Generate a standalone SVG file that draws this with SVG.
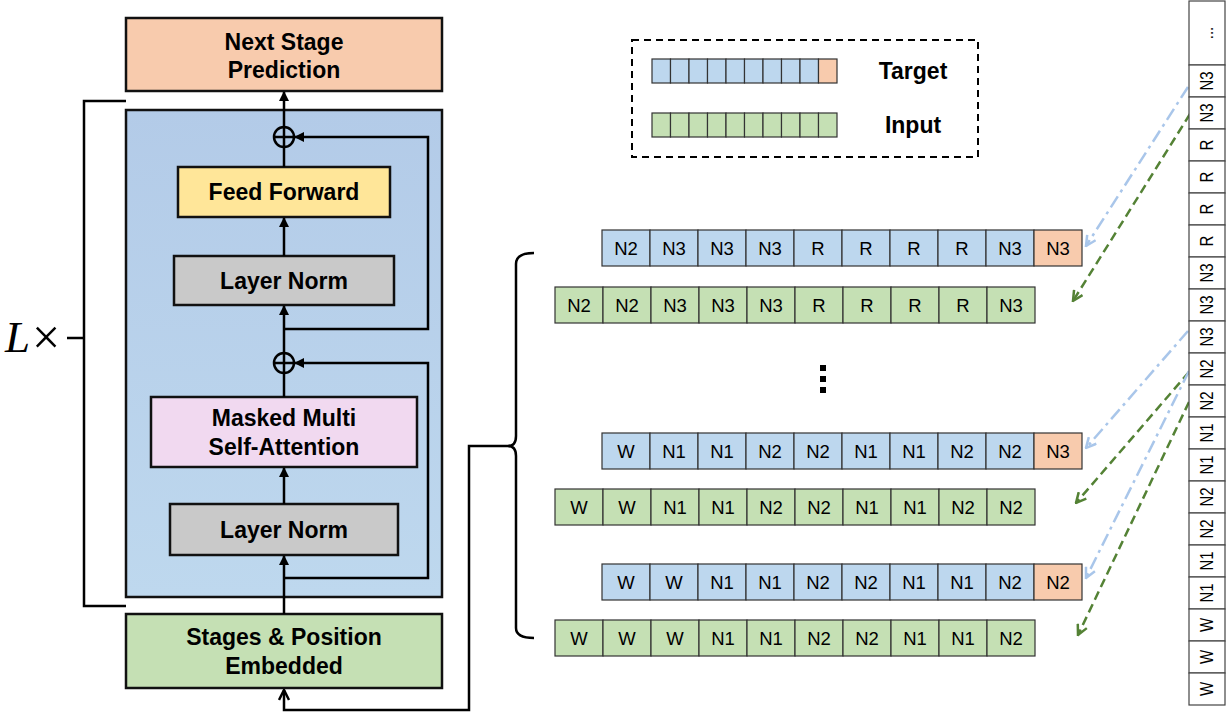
<svg xmlns="http://www.w3.org/2000/svg" width="1229" height="713" viewBox="0 0 1229 713">
<style>
.box{stroke:#111;stroke-width:2.5}
.lbl{font-family:"Liberation Sans",Arial,sans-serif;font-weight:bold;font-size:23px;fill:#000;text-anchor:middle}
.flow{stroke:#000;stroke-width:2.5;fill:none}
.cb{fill:#BDD7EE;stroke:#333;stroke-width:1.2}
.cg{fill:#C5E0B4;stroke:#333;stroke-width:1.2}
.co{fill:#F8CBAD;stroke:#333;stroke-width:1.2}
.cw{fill:#fff;stroke:#444;stroke-width:1.2}
.ct{font-family:"Liberation Sans",Arial,sans-serif;font-size:18.5px;fill:#000;text-anchor:middle}
.st{font-family:"Liberation Sans",Arial,sans-serif;font-size:15px;fill:#000;text-anchor:middle;dominant-baseline:central}
.blu{stroke:#A9C6EA;stroke-width:2.5;fill:none;stroke-dasharray:13 5 3 5}
.grn{stroke:#548235;stroke-width:2.5;fill:none;stroke-dasharray:9 5}
</style>
<defs>
<linearGradient id="bg" x1="0" y1="0" x2="0" y2="1">
<stop offset="0" stop-color="#B3CBE8"/>
<stop offset="1" stop-color="#BED8EE"/>
</linearGradient>
<marker id="ah" viewBox="0 0 10 10" refX="9" refY="5" markerWidth="4" markerHeight="4" orient="auto" markerUnits="strokeWidth">
<path d="M0,0 L10,5 L0,10 z" fill="#000"/>
</marker>
<marker id="ao" viewBox="0 0 10 10" refX="9" refY="5" markerWidth="5" markerHeight="5" orient="auto" markerUnits="strokeWidth">
<path d="M1,1 L9,5 L1,9" fill="none" stroke="#000" stroke-width="2"/>
</marker>
<marker id="ab" viewBox="0 0 10 10" refX="9" refY="5" markerWidth="5" markerHeight="5" orient="auto" markerUnits="strokeWidth">
<path d="M1,1 L9,5 L1,9" fill="none" stroke="#A9C6EA" stroke-width="2"/>
</marker>
<marker id="ag" viewBox="0 0 10 10" refX="9" refY="5" markerWidth="5" markerHeight="5" orient="auto" markerUnits="strokeWidth">
<path d="M1,1 L9,5 L1,9" fill="none" stroke="#548235" stroke-width="2"/>
</marker>
</defs>
<rect width="1229" height="713" fill="#fff"/>

<g id="repeat-bracket">
<path d="M126,101 L84,101 L84,606 L126,606 M84,338 L67,338" class="flow"/>
<text x="5" y="352" font-family="'Liberation Serif','Times New Roman',serif" font-size="45" font-style="italic">L<tspan font-style="normal" font-size="50" dx="2" dy="2">×</tspan></text>
</g>

<g id="next-stage">
<rect x="126" y="18" width="316" height="73" fill="#F8CBAD" class="box"/>
<text x="284" y="50" class="lbl">Next Stage</text>
<text x="284" y="78" class="lbl">Prediction</text>
</g>

<g id="decoder-block">
<rect x="126" y="110" width="316" height="487" fill="url(#bg)" class="box"/>
</g>

<g id="feed-forward">
<rect x="178" y="167" width="212" height="50" fill="#FFE699" class="box"/>
<text x="284" y="200" class="lbl">Feed Forward</text>
</g>
<g id="layer-norm-2">
<rect x="174" y="256" width="220" height="49" fill="#C9C9C9" class="box"/>
<text x="284" y="289" class="lbl">Layer Norm</text>
</g>
<g id="attention">
<rect x="151" y="397" width="266" height="70" fill="#F1D9F0" class="box"/>
<text x="284" y="426" class="lbl">Masked Multi</text>
<text x="284" y="455" class="lbl">Self-Attention</text>
</g>
<g id="layer-norm-1">
<rect x="170" y="504" width="228" height="51" fill="#C9C9C9" class="box"/>
<text x="284" y="538" class="lbl">Layer Norm</text>
</g>
<g id="embedding">
<rect x="126" y="614" width="316" height="74" fill="#C5E0B4" class="box"/>
<text x="284" y="645" class="lbl">Stages &amp; Position</text>
<text x="284" y="674" class="lbl">Embedded</text>
</g>
<g id="add-1">
<circle cx="284" cy="363" r="10" fill="none" stroke="#000" stroke-width="2.5"/>
<path d="M274,363 H294 M284,353 V373" stroke="#000" stroke-width="2.5"/>
</g>
<g id="add-2">
<circle cx="284" cy="137" r="10" fill="none" stroke="#000" stroke-width="2.5"/>
<path d="M274,137 H294 M284,127 V147" stroke="#000" stroke-width="2.5"/>
</g>

<g id="connectors">
<path d="M284,614 V556" class="flow" marker-end="url(#ah)"/>
<path d="M284,504 V468" class="flow" marker-end="url(#ah)"/>
<path d="M284,397 V373" class="flow"/>
<path d="M284,353 V306" class="flow" marker-end="url(#ah)"/>
<path d="M284,256 V218" class="flow" marker-end="url(#ah)"/>
<path d="M284,167 V147" class="flow"/>
<path d="M284,127 V92" class="flow" marker-end="url(#ah)"/>
<path d="M284,578 H428 V363 H295" class="flow" marker-end="url(#ah)"/>
<path d="M284,329 H428 V137 H295" class="flow" marker-end="url(#ah)"/>
<path d="M510,446 H469 V710 H284 V690" class="flow" marker-end="url(#ao)"/>
<path d="M534,253 Q516,253 516,264 V436 Q516,446 508,446 Q516,446 516,456 V628 Q516,638 534,638" class="flow"/>
<path d="M1188,87 L1086,246" class="blu" marker-end="url(#ab)"/>
<path d="M1190,114 L1073,301" class="grn" marker-end="url(#ag)"/>
<path d="M1188,331 L1086,448" class="blu" marker-end="url(#ab)"/>
<path d="M1189,372 L1076,503" class="grn" marker-end="url(#ag)"/>
<path d="M1189,371 L1086,578" class="blu" marker-end="url(#ab)"/>
<path d="M1189,402 L1078,635" class="grn" marker-end="url(#ag)"/>
</g>

<g id="legend">
<rect x="632" y="40" width="346" height="117" fill="none" stroke="#000" stroke-width="2" stroke-dasharray="7 5"/>
<g>
<rect x="652" y="59" width="18.5" height="24" class="cb"/><rect x="670.5" y="59" width="18.5" height="24" class="cb"/><rect x="689" y="59" width="18.5" height="24" class="cb"/><rect x="707.5" y="59" width="18.5" height="24" class="cb"/><rect x="726" y="59" width="18.5" height="24" class="cb"/><rect x="744.5" y="59" width="18.5" height="24" class="cb"/><rect x="763" y="59" width="18.5" height="24" class="cb"/><rect x="781.5" y="59" width="18.5" height="24" class="cb"/><rect x="800" y="59" width="18.5" height="24" class="cb"/><rect x="818.5" y="59" width="18.5" height="24" class="co"/>
<rect x="652" y="113" width="18.5" height="24" class="cg"/><rect x="670.5" y="113" width="18.5" height="24" class="cg"/><rect x="689" y="113" width="18.5" height="24" class="cg"/><rect x="707.5" y="113" width="18.5" height="24" class="cg"/><rect x="726" y="113" width="18.5" height="24" class="cg"/><rect x="744.5" y="113" width="18.5" height="24" class="cg"/><rect x="763" y="113" width="18.5" height="24" class="cg"/><rect x="781.5" y="113" width="18.5" height="24" class="cg"/><rect x="800" y="113" width="18.5" height="24" class="cg"/><rect x="818.5" y="113" width="18.5" height="24" class="cg"/>
</g>
<text x="913" y="79" class="lbl">Target</text>
<text x="913" y="133" class="lbl">Input</text>
</g>

<g id="row1-target">
<rect x="602" y="230" width="48" height="36" class="cb"/><text x="626" y="255" class="ct">N2</text>
<rect x="650" y="230" width="48" height="36" class="cb"/><text x="674" y="255" class="ct">N3</text>
<rect x="698" y="230" width="48" height="36" class="cb"/><text x="722" y="255" class="ct">N3</text>
<rect x="746" y="230" width="48" height="36" class="cb"/><text x="770" y="255" class="ct">N3</text>
<rect x="794" y="230" width="48" height="36" class="cb"/><text x="818" y="255" class="ct">R</text>
<rect x="842" y="230" width="48" height="36" class="cb"/><text x="866" y="255" class="ct">R</text>
<rect x="890" y="230" width="48" height="36" class="cb"/><text x="914" y="255" class="ct">R</text>
<rect x="938" y="230" width="48" height="36" class="cb"/><text x="962" y="255" class="ct">R</text>
<rect x="986" y="230" width="48" height="36" class="cb"/><text x="1010" y="255" class="ct">N3</text>
<rect x="1034" y="230" width="48" height="36" class="co"/><text x="1058" y="255" class="ct">N3</text>
</g>
<g id="row1-input">
<rect x="555" y="287" width="48" height="36" class="cg"/><text x="579" y="312" class="ct">N2</text>
<rect x="603" y="287" width="48" height="36" class="cg"/><text x="627" y="312" class="ct">N2</text>
<rect x="651" y="287" width="48" height="36" class="cg"/><text x="675" y="312" class="ct">N3</text>
<rect x="699" y="287" width="48" height="36" class="cg"/><text x="723" y="312" class="ct">N3</text>
<rect x="747" y="287" width="48" height="36" class="cg"/><text x="771" y="312" class="ct">N3</text>
<rect x="795" y="287" width="48" height="36" class="cg"/><text x="819" y="312" class="ct">R</text>
<rect x="843" y="287" width="48" height="36" class="cg"/><text x="867" y="312" class="ct">R</text>
<rect x="891" y="287" width="48" height="36" class="cg"/><text x="915" y="312" class="ct">R</text>
<rect x="939" y="287" width="48" height="36" class="cg"/><text x="963" y="312" class="ct">R</text>
<rect x="987" y="287" width="48" height="36" class="cg"/><text x="1011" y="312" class="ct">N3</text>
</g>
<g id="ellipsis">
<rect x="820" y="365" width="6" height="6" fill="#000"/>
<rect x="820" y="376" width="6" height="6" fill="#000"/>
<rect x="820" y="387" width="6" height="6" fill="#000"/>
</g>
<g id="row2-target">
<rect x="602" y="433" width="48" height="36" class="cb"/><text x="626" y="458" class="ct">W</text>
<rect x="650" y="433" width="48" height="36" class="cb"/><text x="674" y="458" class="ct">N1</text>
<rect x="698" y="433" width="48" height="36" class="cb"/><text x="722" y="458" class="ct">N1</text>
<rect x="746" y="433" width="48" height="36" class="cb"/><text x="770" y="458" class="ct">N2</text>
<rect x="794" y="433" width="48" height="36" class="cb"/><text x="818" y="458" class="ct">N2</text>
<rect x="842" y="433" width="48" height="36" class="cb"/><text x="866" y="458" class="ct">N1</text>
<rect x="890" y="433" width="48" height="36" class="cb"/><text x="914" y="458" class="ct">N1</text>
<rect x="938" y="433" width="48" height="36" class="cb"/><text x="962" y="458" class="ct">N2</text>
<rect x="986" y="433" width="48" height="36" class="cb"/><text x="1010" y="458" class="ct">N2</text>
<rect x="1034" y="433" width="48" height="36" class="co"/><text x="1058" y="458" class="ct">N3</text>
</g>
<g id="row2-input">
<rect x="555" y="489" width="48" height="36" class="cg"/><text x="579" y="514" class="ct">W</text>
<rect x="603" y="489" width="48" height="36" class="cg"/><text x="627" y="514" class="ct">W</text>
<rect x="651" y="489" width="48" height="36" class="cg"/><text x="675" y="514" class="ct">N1</text>
<rect x="699" y="489" width="48" height="36" class="cg"/><text x="723" y="514" class="ct">N1</text>
<rect x="747" y="489" width="48" height="36" class="cg"/><text x="771" y="514" class="ct">N2</text>
<rect x="795" y="489" width="48" height="36" class="cg"/><text x="819" y="514" class="ct">N2</text>
<rect x="843" y="489" width="48" height="36" class="cg"/><text x="867" y="514" class="ct">N1</text>
<rect x="891" y="489" width="48" height="36" class="cg"/><text x="915" y="514" class="ct">N1</text>
<rect x="939" y="489" width="48" height="36" class="cg"/><text x="963" y="514" class="ct">N2</text>
<rect x="987" y="489" width="48" height="36" class="cg"/><text x="1011" y="514" class="ct">N2</text>
</g>
<g id="row3-target">
<rect x="602" y="564" width="48" height="36" class="cb"/><text x="626" y="589" class="ct">W</text>
<rect x="650" y="564" width="48" height="36" class="cb"/><text x="674" y="589" class="ct">W</text>
<rect x="698" y="564" width="48" height="36" class="cb"/><text x="722" y="589" class="ct">N1</text>
<rect x="746" y="564" width="48" height="36" class="cb"/><text x="770" y="589" class="ct">N1</text>
<rect x="794" y="564" width="48" height="36" class="cb"/><text x="818" y="589" class="ct">N2</text>
<rect x="842" y="564" width="48" height="36" class="cb"/><text x="866" y="589" class="ct">N2</text>
<rect x="890" y="564" width="48" height="36" class="cb"/><text x="914" y="589" class="ct">N1</text>
<rect x="938" y="564" width="48" height="36" class="cb"/><text x="962" y="589" class="ct">N1</text>
<rect x="986" y="564" width="48" height="36" class="cb"/><text x="1010" y="589" class="ct">N2</text>
<rect x="1034" y="564" width="48" height="36" class="co"/><text x="1058" y="589" class="ct">N2</text>
</g>
<g id="row3-input">
<rect x="555" y="620" width="48" height="36" class="cg"/><text x="579" y="645" class="ct">W</text>
<rect x="603" y="620" width="48" height="36" class="cg"/><text x="627" y="645" class="ct">W</text>
<rect x="651" y="620" width="48" height="36" class="cg"/><text x="675" y="645" class="ct">W</text>
<rect x="699" y="620" width="48" height="36" class="cg"/><text x="723" y="645" class="ct">N1</text>
<rect x="747" y="620" width="48" height="36" class="cg"/><text x="771" y="645" class="ct">N1</text>
<rect x="795" y="620" width="48" height="36" class="cg"/><text x="819" y="645" class="ct">N2</text>
<rect x="843" y="620" width="48" height="36" class="cg"/><text x="867" y="645" class="ct">N2</text>
<rect x="891" y="620" width="48" height="36" class="cg"/><text x="915" y="645" class="ct">N1</text>
<rect x="939" y="620" width="48" height="36" class="cg"/><text x="963" y="645" class="ct">N1</text>
<rect x="987" y="620" width="48" height="36" class="cg"/><text x="1011" y="645" class="ct">N2</text>
</g>

<g id="sequence-strip">
<rect x="1189" y="1" width="36" height="64" class="cw"/><text class="st" transform="translate(1207,33) rotate(-90) scale(1,1.25)">...</text>
<rect x="1189" y="65" width="36" height="32" class="cw"/><text class="st" transform="translate(1207,81) rotate(-90) scale(1,1.25)">N3</text>
<rect x="1189" y="97" width="36" height="32" class="cw"/><text class="st" transform="translate(1207,113) rotate(-90) scale(1,1.25)">N3</text>
<rect x="1189" y="129" width="36" height="32" class="cw"/><text class="st" transform="translate(1207,145) rotate(-90) scale(1,1.25)">R</text>
<rect x="1189" y="161" width="36" height="32" class="cw"/><text class="st" transform="translate(1207,177) rotate(-90) scale(1,1.25)">R</text>
<rect x="1189" y="193" width="36" height="32" class="cw"/><text class="st" transform="translate(1207,209) rotate(-90) scale(1,1.25)">R</text>
<rect x="1189" y="225" width="36" height="32" class="cw"/><text class="st" transform="translate(1207,241) rotate(-90) scale(1,1.25)">R</text>
<rect x="1189" y="257" width="36" height="32" class="cw"/><text class="st" transform="translate(1207,273) rotate(-90) scale(1,1.25)">N3</text>
<rect x="1189" y="289" width="36" height="32" class="cw"/><text class="st" transform="translate(1207,305) rotate(-90) scale(1,1.25)">N3</text>
<rect x="1189" y="321" width="36" height="32" class="cw"/><text class="st" transform="translate(1207,337) rotate(-90) scale(1,1.25)">N3</text>
<rect x="1189" y="353" width="36" height="32" class="cw"/><text class="st" transform="translate(1207,369) rotate(-90) scale(1,1.25)">N2</text>
<rect x="1189" y="385" width="36" height="32" class="cw"/><text class="st" transform="translate(1207,401) rotate(-90) scale(1,1.25)">N2</text>
<rect x="1189" y="417" width="36" height="32" class="cw"/><text class="st" transform="translate(1207,433) rotate(-90) scale(1,1.25)">N1</text>
<rect x="1189" y="449" width="36" height="32" class="cw"/><text class="st" transform="translate(1207,465) rotate(-90) scale(1,1.25)">N1</text>
<rect x="1189" y="481" width="36" height="32" class="cw"/><text class="st" transform="translate(1207,497) rotate(-90) scale(1,1.25)">N2</text>
<rect x="1189" y="513" width="36" height="32" class="cw"/><text class="st" transform="translate(1207,529) rotate(-90) scale(1,1.25)">N2</text>
<rect x="1189" y="545" width="36" height="32" class="cw"/><text class="st" transform="translate(1207,561) rotate(-90) scale(1,1.25)">N1</text>
<rect x="1189" y="577" width="36" height="32" class="cw"/><text class="st" transform="translate(1207,593) rotate(-90) scale(1,1.25)">N1</text>
<rect x="1189" y="609" width="36" height="32" class="cw"/><text class="st" transform="translate(1207,625) rotate(-90) scale(1,1.25)">W</text>
<rect x="1189" y="641" width="36" height="32" class="cw"/><text class="st" transform="translate(1207,657) rotate(-90) scale(1,1.25)">W</text>
<rect x="1189" y="673" width="36" height="32" class="cw"/><text class="st" transform="translate(1207,689) rotate(-90) scale(1,1.25)">W</text>
</g>
</svg>
